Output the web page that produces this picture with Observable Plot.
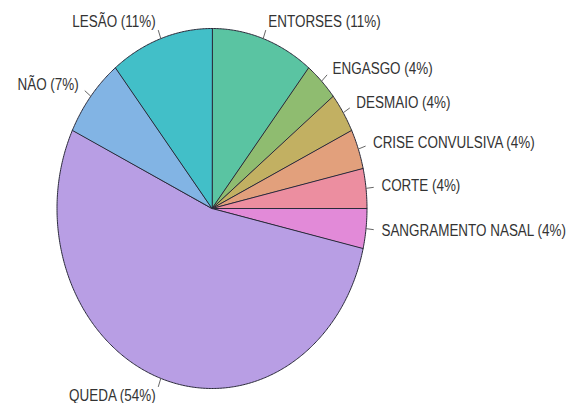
<!DOCTYPE html>
<html>
<head>
<meta charset="utf-8">
<script src="https://cdn.jsdelivr.net/npm/d3@7"></script>
<script src="https://cdn.jsdelivr.net/npm/@observablehq/plot@0.6"></script>
<style>
  html, body { margin: 0; padding: 0; background: #fff; }
</style>
</head>
<body>
<div id="chart"></div>
<script>
const categories = ["ENTORSES", "ENGASGO", "DESMAIO", "CRISE CONVULSIVA", "CORTE",
  "SANGRAMENTO NASAL", "QUEDA", "NÃO", "LESÃO"];
const counts = [3, 1, 1, 1, 1, 1, 15, 2, 3];
const labels = ["ENTORSES (11%)", "ENGASGO (4%)", "DESMAIO (4%)", "CRISE CONVULSIVA (4%)",
  "CORTE (4%)", "SANGRAMENTO NASAL (4%)", "QUEDA (54%)", "NÃO (7%)", "LESÃO (11%)"];
const colors = ["#5ac4a2", "#8fbc70", "#c2b062", "#e2a07c", "#ec8ea0",
  "#e28ad8", "#b89ee4", "#82b4e4", "#42bfc8"];

const arcs = d3.pie().sort(null).value(d => d)(counts);

const slices = [];
arcs.forEach((a, i) => {
  slices.push({cat: categories[i], fill: colors[i], x: 0, y: 0});
  const n = Math.max(8, Math.ceil((a.endAngle - a.startAngle) / 0.01));
  for (let k = 0; k <= n; k++) {
    const t = a.startAngle + (a.endAngle - a.startAngle) * k / n;
    slices.push({cat: categories[i], fill: colors[i], x: Math.sin(t), y: Math.cos(t)});
  }
});

const mids = arcs.map((a, i) => {
  const t = (a.startAngle + a.endAngle) / 2;
  return {label: labels[i], s: Math.sin(t), c: Math.cos(t)};
});

const chart = Plot.plot({
  width: 571,
  height: 403,
  margin: 0,
  x: {domain: [-1, 1], range: [56.5, 366.5], axis: null},
  y: {domain: [-1, 1], range: [388, 28], axis: null},
  style: {fontFamily: "'Liberation Sans', Arial, sans-serif", background: "#fff"},
  marks: [
    Plot.line(slices, {x: "x", y: "y", z: "cat", fill: "fill", stroke: "#2a2a3a",
      strokeWidth: 1, curve: "linear-closed", strokeLinejoin: "round"}),
    Plot.link(mids, {x1: d => d.s, y1: d => d.c, x2: d => d.s * 1.05, y2: d => d.c * 1.05,
      stroke: "#666", strokeWidth: 1}),
    Plot.text(mids.filter(d => d.s >= 0), {x: d => d.s * 1.1, y: d => d.c * 1.1, text: "label",
      textAnchor: "start", fontSize: 16, fill: "#333"}),
    Plot.text(mids.filter(d => d.s < 0), {x: d => d.s * 1.1, y: d => d.c * 1.1, text: "label",
      textAnchor: "end", fontSize: 16, fill: "#333"})
  ]
});
document.getElementById("chart").appendChild(chart);
// condense label glyphs horizontally (narrow face look)
chart.querySelectorAll("text").forEach(t => {
  const w = t.getComputedTextLength();
  if (w > 0) {
    t.setAttribute("textLength", (w * 0.84).toFixed(1));
    t.setAttribute("lengthAdjust", "spacingAndGlyphs");
  }
});
</script>
</body>
</html>
